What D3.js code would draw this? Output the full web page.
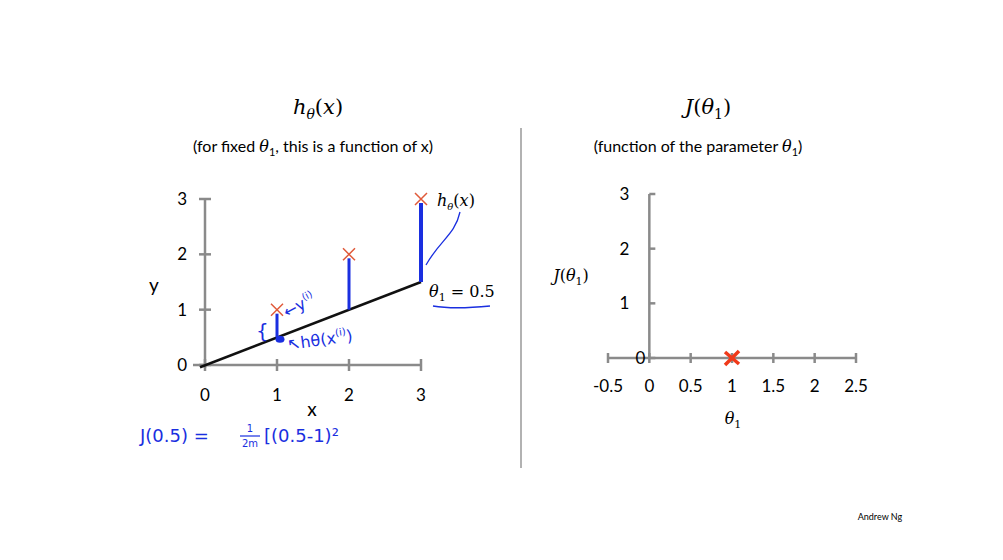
<!DOCTYPE html><html><head><meta charset="utf-8">
<script src="https://cdn.jsdelivr.net/npm/d3@7"></script>
<style>body{margin:0;background:#fff}</style></head><body>
<svg id="c" width="1003" height="560"></svg>
<script>
const dataX=[1,2,3], dataY=[1,2,3];
const theta1=0.5;
const leftTicks=[0,1,2,3];
const jX=[1], jY=[0];
const rightXTicks=[-0.5,0,0.5,1,1.5,2,2.5];
const rightYTicks=[0,1,2,3];
const svg=d3.select("#c");
const grey="#8a8a8a", red="#e05a3a", blue="#1a2fe0";
const sans="Lato,'Open Sans',sans-serif", serif="'DejaVu Serif','Liberation Serif',serif";
const sub=(s,fs,d)=>`<tspan font-style='italic'>${s}</tspan><tspan font-size='${fs}' dy='${d}'>`;
// Left chart
const lx=d3.scaleLinear().domain([0,3]).range([205,421]);
const ly=d3.scaleLinear().domain([0,3]).range([365,199]);
const L=svg.append("g");
L.append("line").attr("x1",193).attr("x2",lx(3)).attr("y1",ly(0)).attr("y2",ly(0)).attr("stroke",grey).attr("stroke-width",2.5);
L.append("line").attr("x1",lx(0)).attr("x2",lx(0)).attr("y1",ly(3)).attr("y2",ly(0)+3).attr("stroke",grey).attr("stroke-width",2.5);
leftTicks.forEach(t=>{
 L.append("line").attr("x1",lx(t)).attr("x2",lx(t)).attr("y1",ly(0)-6).attr("y2",ly(0)+6).attr("stroke",grey).attr("stroke-width",2.5);
 L.append("line").attr("x1",lx(0)-6).attr("x2",lx(0)+6).attr("y1",ly(t)).attr("y2",ly(t)).attr("stroke",grey).attr("stroke-width",2.5);
 L.append("text").attr("x",lx(t)).attr("y",ly(0)+36).attr("text-anchor","middle").attr("font-family",sans).attr("font-size",17).text(t);
 L.append("text").attr("x",lx(0)-18).attr("y",ly(t)+6).attr("text-anchor","end").attr("font-family",sans).attr("font-size",17).text(t);
});
L.append("text").attr("x",312).attr("y",416).attr("text-anchor","middle").attr("font-family",sans).attr("font-size",19).text("x");
L.append("text").attr("x",154).attr("y",292).attr("text-anchor","middle").attr("font-family",sans).attr("font-size",19).text("y");
L.append("line").attr("x1",lx(0)-5).attr("y1",ly(-0.04)).attr("x2",lx(3)).attr("y2",ly(3*theta1)).attr("stroke","#111").attr("stroke-width",2.5);
dataX.forEach((x,i)=>{
 L.append("line").attr("x1",lx(x)).attr("x2",lx(x)).attr("y1",ly(dataY[i])+4).attr("y2",ly(theta1*x)).attr("stroke",blue).attr("stroke-width",i==2?4:3);
});
L.append("ellipse").attr("cx",lx(1)+3).attr("cy",ly(0.5)+2).attr("rx",4.5).attr("ry",3.5).attr("fill",blue);
dataX.forEach((x,i)=>{
 const cx=lx(x), cy=ly(dataY[i]), s=6;
 L.append("path").attr("d",`M${cx-s},${cy-s}L${cx+s},${cy+s}M${cx+s},${cy-s}L${cx-s},${cy+s}`).attr("stroke",red).attr("stroke-width",1.5);
});
L.append("text").attr("x",437).attr("y",206).attr("font-family",serif).attr("font-size",16).html(sub("h",10,4)+"<tspan font-style='italic'>θ</tspan></tspan><tspan dy='-4'>(</tspan><tspan font-style='italic'>x</tspan>)");
L.append("text").attr("x",429).attr("y",297).attr("font-family",serif).attr("font-size",16).html(sub("θ",11,4)+"1</tspan><tspan dy='-4'> = 0.5</tspan>");
const hw="'DejaVu Sans',sans-serif";
L.append("path").attr("d","M460,212 C455,235 440,240 426,265").attr("stroke",blue).attr("fill","none").attr("stroke-width",1.3);
L.append("path").attr("d","M433,306 C450,309 470,308 490,306").attr("stroke",blue).attr("fill","none").attr("stroke-width",1.5);
L.append("text").attr("x",287).attr("y",318).attr("fill",blue).attr("font-family",hw).attr("font-size",16).attr("transform","rotate(-28,287,318)").html("←y<tspan font-size='10' dy='-7'>(i)</tspan>");
L.append("text").attr("x",288).attr("y",350).attr("fill",blue).attr("font-family",hw).attr("font-size",16).attr("transform","rotate(-8,288,350)").html("↖hθ(x<tspan font-size='10' dy='-7'>(i)</tspan><tspan dy='7'>)</tspan>");
L.append("text").attr("x",256).attr("y",338).attr("fill",blue).attr("font-family",hw).attr("font-size",20).text("{");
L.append("text").attr("x",140).attr("y",442).attr("fill",blue).attr("font-family",hw).attr("font-size",18).text("J(0.5) =");
L.append("text").attr("x",250).attr("y",432).attr("fill",blue).attr("font-family",hw).attr("font-size",10).attr("text-anchor","middle").text("1");
L.append("line").attr("x1",240).attr("x2",260).attr("y1",436).attr("y2",436).attr("stroke",blue).attr("stroke-width",1.2);
L.append("text").attr("x",250).attr("y",447).attr("fill",blue).attr("font-family",hw).attr("font-size",10).attr("text-anchor","middle").text("2m");
L.append("text").attr("x",264).attr("y",442).attr("fill",blue).attr("font-family",hw).attr("font-size",18).text("[(0.5-1)²");
// titles
svg.append("text").attr("x",318).attr("y",114).attr("text-anchor","middle").attr("font-family",serif).attr("font-size",21).html(sub("h",14,5)+"<tspan font-style='italic'>θ</tspan></tspan><tspan dy='-5'>(</tspan><tspan font-style='italic'>x</tspan>)");
svg.append("text").attr("x",313).attr("y",152).attr("text-anchor","middle").attr("font-family",sans).attr("font-size",16).html("(for fixed <tspan font-family=\"'DejaVu Serif',serif\" font-style='italic'>θ</tspan><tspan font-size='11' dy='4'>1</tspan><tspan dy='-4'>, this is a function of x)</tspan>");
svg.append("text").attr("x",708).attr("y",114).attr("text-anchor","middle").attr("font-family",serif).attr("font-size",21).html(sub("J",21,0)+"</tspan>(<tspan font-style='italic'>θ</tspan><tspan font-size='14' dy='5'>1</tspan><tspan dy='-5'>)</tspan>");
svg.append("text").attr("x",698).attr("y",152).attr("text-anchor","middle").attr("font-family",sans).attr("font-size",16).html("(function of the parameter <tspan font-family=\"'DejaVu Serif',serif\" font-style='italic'>θ</tspan><tspan font-size='11' dy='4'>1</tspan><tspan dy='-4'>)</tspan>");
svg.append("line").attr("x1",521).attr("x2",521).attr("y1",128).attr("y2",468).attr("stroke","#999").attr("stroke-width",1.5);
// Right chart
const rx=d3.scaleLinear().domain([-0.5,2.5]).range([608,856]);
const ry=d3.scaleLinear().domain([0,3]).range([358,194]);
const R=svg.append("g");
R.append("line").attr("x1",rx(-0.5)).attr("x2",rx(2.5)).attr("y1",ry(0)).attr("y2",ry(0)).attr("stroke",grey).attr("stroke-width",2.5);
R.append("line").attr("x1",rx(0)).attr("x2",rx(0)).attr("y1",ry(3)).attr("y2",ry(0)).attr("stroke",grey).attr("stroke-width",2.5);
rightXTicks.forEach(t=>{
 R.append("line").attr("x1",rx(t)).attr("x2",rx(t)).attr("y1",ry(0)-5).attr("y2",ry(0)+5).attr("stroke",grey).attr("stroke-width",2.5);
 R.append("text").attr("x",rx(t)).attr("y",ry(0)+34).attr("text-anchor","middle").attr("font-family",sans).attr("font-size",17).text(t);
});
rightYTicks.forEach(t=>{
 R.append("line").attr("x1",rx(0)).attr("x2",rx(0)+6).attr("y1",ry(t)).attr("y2",ry(t)).attr("stroke",grey).attr("stroke-width",2.5);
 R.append("text").attr("x",t==0?rx(0)-4:rx(0)-20).attr("y",ry(t)+6).attr("text-anchor","end").attr("font-family",sans).attr("font-size",17).text(t);
});
R.append("text").attr("x",571).attr("y",281).attr("text-anchor","middle").attr("font-family",serif).attr("font-size",16).html("<tspan font-style='italic'>J</tspan>(<tspan font-style='italic'>θ</tspan><tspan font-size='11' dy='4'>1</tspan><tspan dy='-4'>)</tspan>");
R.append("text").attr("x",733).attr("y",424).attr("text-anchor","middle").attr("font-family",serif).attr("font-size",16).html("<tspan font-style='italic'>θ</tspan><tspan font-size='11' dy='4'>1</tspan>");
jX.forEach((x,i)=>{
 const cx=rx(x), cy=ry(jY[i]), s=7;
 R.append("path").attr("d",`M${cx-s},${cy-s+1}L${cx+s},${cy+s-1}M${cx+s},${cy-s}L${cx-s},${cy+s}`).attr("stroke","#f03a1a").attr("stroke-width",3.5);
});
svg.append("text").attr("x",880).attr("y",520).attr("text-anchor","middle").attr("font-family",sans).attr("font-size",9).text("Andrew Ng");
</script></body></html>
